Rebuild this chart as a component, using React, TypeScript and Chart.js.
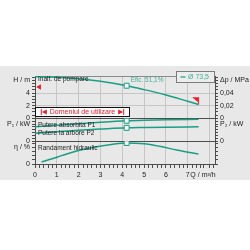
import { useEffect, useRef } from 'react';
import { Chart, registerables } from 'chart.js';
Chart.register(...registerables);

// ---- data ----
const flowH = [0, 1, 2, 3, 4.2, 5, 6, 7, 7.5];
const headH = [6.62, 6.52, 6.28, 5.88, 5.17, 4.55, 3.7, 2.7, 2.2];

const flowP = [0, 1, 2, 3, 4.2, 5, 6, 7.5];
const powerP1 = [0.126, 0.139, 0.152, 0.165, 0.178, 0.183, 0.187, 0.191];
const powerP2 = [0.07, 0.083, 0.096, 0.106, 0.117, 0.12, 0.123, 0.126];

const flowEta = [0.3, 0.75, 1.25, 2, 2.75, 3.5, 4.2, 5, 5.7, 6.5, 7.5];
const effEta = [4.9, 12, 21, 33, 41.5, 47.5, 51.1, 49, 43, 34, 24];

const dutyFlow = 4.2;
const dutyText = 'Efic. 51,1%';
const minMarkFlow = [0.2];
const minMarkHead = [4.97];
const maxFlagFlow = [7.5, 7.5];
const maxFlagHead = [2.2, 3.35];

const seriesNames = ['Inalt. de pompare', 'Putere absorbita P1', 'Putere la arbore P2', 'Randament hidraulic'];
const impellerLabel = 'Ø 73,5';
const domainLabel = 'Domeniul de utilizare';
const domainFlow = [0, 4.3];
const domainHead = [0.28, 1.85];

const xTickValues = [0, 1, 2, 3, 4, 5, 6, 7, 7.7];
const xTickLabels = ['0', '1', '2', '3', '4', '5', '6', '7', 'Q / m³/h'];
const hTickValues = [0, 2, 4, 6];
const hTickLabels = ['0', '2', '4', 'H / m'];
const dpTickValues = [0, 0.02, 0.04, 0.06];
const dpTickLabels = ['0', '0,02', '0,04', 'Δp / MPa'];
const p1TickValues = [0, 0.15];
const p1TickLabels = ['0', 'P₁ / kW'];
const p2TickValues = [0, 0.15];
const p2TickLabels = ['0', 'P₂ / kW'];
const etaTickValues = [0, 40];
const etaTickLabels = ['0', 'η / %'];

// ---- style ----
const FONT = '"Liberation Sans", Arial, sans-serif';
const GREEN = '#1a9e84';
const GREEN_TXT = '#3fae94';
const RED = '#e3202e';
const DARK = '#4d4d4d';
const GRID = '#c6c6c6';
const TXT = '#222';

const near = (a: number, b: number) => Math.abs(a - b) < 1e-9;
const labeller = (vals: number[], labels: string[]) => (v: any) => {
  const i = vals.findIndex((t) => near(t, Number(v)));
  return i >= 0 ? labels[i] : '';
};
const pts = (xs: number[], ys: number[]) => xs.map((x, i) => ({ x, y: ys[i] }));

const tickFont = { family: FONT, size: 7 };

function yAxis(opts: any) {
  return {
    type: 'linear',
    min: 0,
    max: opts.max,
    position: opts.position,
    stack: opts.position === 'left' ? 'L' : 'R',
    stackWeight: opts.stackWeight,
    weight: opts.weight,
    border: { color: DARK, width: 1 },
    grid: {
      drawOnChartArea: opts.position === 'left',
      tickLength: 3,
      tickColor: DARK,
      color: opts.gridColor || (() => 'transparent'),
    },
    ticks: {
      stepSize: opts.step,
      includeBounds: false,
      autoSkip: false,
      padding: 2,
      font: tickFont,
      color: TXT,
      callback: opts.cb,
    },
    afterFit: (s: any) => {
      s.width = 35;
    },
  };
}

const overlay = {
  id: 'overlay',
  beforeDatasetsDraw(chart: any) {
    const { ctx, chartArea: a } = chart;
    ctx.save();
    ctx.strokeStyle = '#8a8a8a';
    ctx.lineWidth = 1;
    ctx.beginPath();
    ctx.moveTo(a.left, a.top + 0.5);
    ctx.lineTo(a.right, a.top + 0.5);
    ctx.stroke();
    ctx.restore();
  },
  afterDatasetsDraw(chart: any) {
    const { ctx, chartArea: a, scales } = chart;
    const x = scales.x, yH = scales.yH, yP = scales.yP, yE = scales.yE;
    ctx.save();
    ctx.font = `6.5px ${FONT}`;
    ctx.fillStyle = TXT;
    ctx.textBaseline = 'middle';
    ctx.textAlign = 'left';
    const lx = a.left + 3;
    ctx.fillText(seriesNames[0], lx, yH.top + 3.5);
    ctx.fillText(seriesNames[1], lx, yP.top + 7);
    ctx.fillText(seriesNames[2], lx, yP.top + 14.5);
    ctx.fillText(seriesNames[3], lx, yE.top + 6.5);

    // efficiency text
    ctx.fillStyle = GREEN_TXT;
    const dx = x.getPixelForValue(dutyFlow);
    const dyH = yH.getPixelForValue(headH[flowH.indexOf(dutyFlow)]);
    ctx.fillText(dutyText, dx + 4, dyH - 6);

    // domain box
    const bx0 = Math.round(x.getPixelForValue(domainFlow[0])) + 0.5;
    const bx1 = Math.round(x.getPixelForValue(domainFlow[1])) + 0.5;
    const by0 = Math.round(yH.getPixelForValue(domainHead[1])) + 0.5;
    const by1 = Math.round(yH.getPixelForValue(domainHead[0])) + 0.5;
    ctx.fillStyle = '#fbfbfb';
    ctx.fillRect(bx0, by0, bx1 - bx0, by1 - by0);
    ctx.strokeStyle = '#111';
    ctx.lineWidth = 1;
    ctx.strokeRect(bx0, by0, bx1 - bx0, by1 - by0);
    const cy = (by0 + by1) / 2;
    ctx.font = `7px ${FONT}`;
    ctx.fillStyle = RED;
    ctx.textAlign = 'center';
    const cx = (bx0 + bx1) / 2;
    ctx.fillText(domainLabel, cx, cy + 0.5);
    const tw = ctx.measureText(domainLabel).width;
    const lA = cx - tw / 2 - 3;
    const rA = cx + tw / 2 + 3;
    ctx.strokeStyle = RED;
    ctx.beginPath();
    ctx.moveTo(lA - 5.5, cy - 3);
    ctx.lineTo(lA - 5.5, cy + 3);
    ctx.moveTo(rA + 5.5, cy - 3);
    ctx.lineTo(rA + 5.5, cy + 3);
    ctx.stroke();
    ctx.beginPath();
    ctx.moveTo(lA - 5, cy);
    ctx.lineTo(lA, cy - 2.5);
    ctx.lineTo(lA, cy + 2.5);
    ctx.closePath();
    ctx.moveTo(rA + 5, cy);
    ctx.lineTo(rA, cy - 2.5);
    ctx.lineTo(rA, cy + 2.5);
    ctx.closePath();
    ctx.fill();

    // flag
    const fx = x.getPixelForValue(maxFlagFlow[1]);
    const fy = yH.getPixelForValue(maxFlagHead[1]);
    ctx.fillStyle = RED;
    ctx.beginPath();
    ctx.moveTo(fx - 0.5, fy);
    ctx.lineTo(fx - 6.5, fy);
    ctx.lineTo(fx - 0.5, fy + 5);
    ctx.closePath();
    ctx.fill();

    // legend box
    const lgx = a.right - 38.5, lgy = a.top - 4.5;
    ctx.fillStyle = '#ececec';
    ctx.fillRect(lgx, lgy, 38, 11);
    ctx.strokeStyle = '#7c7c7c';
    ctx.strokeRect(lgx, lgy, 38, 11);
    ctx.strokeStyle = GREEN;
    ctx.lineWidth = 1.2;
    ctx.beginPath();
    ctx.moveTo(lgx + 4, lgy + 5.5);
    ctx.lineTo(lgx + 9, lgy + 5.5);
    ctx.stroke();
    ctx.fillStyle = GREEN_TXT;
    ctx.textAlign = 'left';
    ctx.font = `7px ${FONT}`;
    ctx.fillText(impellerLabel, lgx + 11.5, lgy + 6);
    ctx.restore();
  },
};

const curve = (label: string, data: any[], yAxisID: string) => ({
  label,
  data,
  yAxisID,
  xAxisID: 'x',
  borderColor: GREEN,
  borderWidth: 1.5,
  cubicInterpolationMode: 'monotone',
  pointStyle: 'rect',
  pointRadius: (c: any) => (c.raw && near(c.raw.x, dutyFlow) ? 3.5 : 0),
  pointBackgroundColor: '#f4f4f4',
  pointBorderColor: GREEN,
  pointBorderWidth: 1,
  fill: false,
});

export default function App() {
  const ref = useRef<HTMLCanvasElement>(null);
  useEffect(() => {
    const chart = new Chart(ref.current as HTMLCanvasElement, {
      type: 'line',
      data: {
        datasets: [
          curve(seriesNames[0], pts(flowH, headH), 'yH'),
          curve(seriesNames[1], pts(flowP, powerP1), 'yP'),
          curve(seriesNames[2], pts(flowP, powerP2), 'yP'),
          curve(seriesNames[3], pts(flowEta, effEta), 'yE'),
          {
            label: 'min',
            data: pts(minMarkFlow, minMarkHead),
            yAxisID: 'yH',
            xAxisID: 'x',
            showLine: false,
            pointStyle: 'triangle',
            rotation: -90,
            pointRadius: 3.2,
            pointBackgroundColor: RED,
            pointBorderColor: RED,
            borderWidth: 0,
          },
          {
            label: 'max',
            data: pts(maxFlagFlow, maxFlagHead),
            yAxisID: 'yH',
            xAxisID: 'x',
            borderColor: RED,
            borderWidth: 1,
            pointRadius: 0,
          },
        ] as any,
      },
      options: {
        responsive: false,
        devicePixelRatio: 1,
        animation: false,
        layout: { padding: { top: 10, left: 0, right: 0, bottom: 0 } },
        plugins: { legend: { display: false }, tooltip: { enabled: false } },
        scales: {
          x: {
            type: 'linear',
            min: 0,
            max: 8.25,
            border: { color: DARK, width: 1 },
            grid: {
              tickLength: 4,
              tickColor: DARK,
              color: (c: any) => {
                const v = c.tick ? c.tick.value : 0;
                return v > 0 && near(v, Math.round(v)) ? GRID : 'transparent';
              },
            },
            afterBuildTicks: (s: any) => {
              s.ticks = s.ticks.map((t: any) => (near(t.value, 7.8) ? { value: 7.7 } : t));
            },
            ticks: {
              stepSize: 0.2,
              includeBounds: false,
              autoSkip: false,
              maxRotation: 0,
              padding: 2.5,
              font: tickFont,
              color: TXT,
              callback: labeller(xTickValues, xTickLabels),
            },
            afterFit: (s: any) => {
              s.height = 16;
            },
          },
          yH: yAxis({
            position: 'left', max: 6.72, step: 0.5, stackWeight: 42, weight: 3,
            cb: labeller(hTickValues, hTickLabels),
            gridColor: (c: any) => {
              const v = c.tick ? c.tick.value : -1;
              if (near(v, 0)) return DARK;
              return near(v, 2) || near(v, 4) ? GRID : 'transparent';
            },
          }),
          yP: yAxis({
            position: 'left', max: 0.2, step: 0.025, stackWeight: 23, weight: 2,
            cb: labeller(p1TickValues, p1TickLabels),
            gridColor: (c: any) => (c.tick && near(c.tick.value, 0) ? DARK : 'transparent'),
          }),
          yE: yAxis({
            position: 'left', max: 55, step: 10, stackWeight: 22.5, weight: 1,
            cb: labeller(etaTickValues, etaTickLabels),
          }),
          yDp: yAxis({
            position: 'right', max: 0.0672, step: 0.005, stackWeight: 42, weight: 1,
            cb: labeller(dpTickValues, dpTickLabels),
          }),
          yP2: yAxis({
            position: 'right', max: 0.2, step: 0.025, stackWeight: 23, weight: 2,
            cb: labeller(p2TickValues, p2TickLabels),
          }),
          yE2: yAxis({
            position: 'right', max: 55, step: 10, stackWeight: 22.5, weight: 3,
            cb: () => '',
          }),
        } as any,
      },
      plugins: [overlay],
    } as any);
    return () => chart.destroy();
  }, []);
  return (
    <div style={{ position: 'fixed', left: 0, top: 0, width: 250, height: 250, background: '#fff' }}>
      <div style={{ position: 'absolute', left: 0, top: 66, width: 250, height: 114, background: '#e8e8e8' }}>
        <canvas ref={ref} width={250} height={114} style={{ display: 'block', width: 250, height: 114 }} />
      </div>
    </div>
  );
}
